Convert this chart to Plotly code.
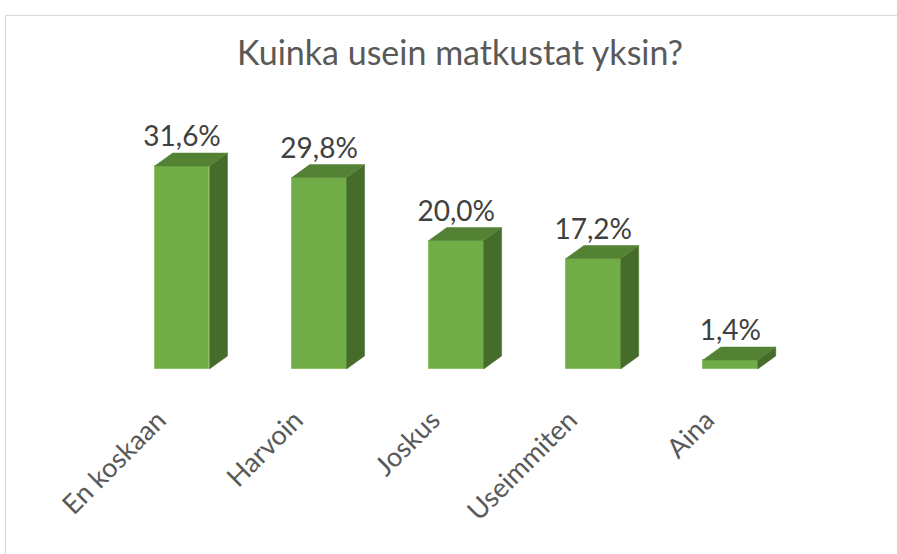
import plotly.graph_objects as go

categories = ["En koskaan", "Harvoin", "Joskus", "Useimmiten", "Aina"]
values = [31.6, 29.8, 20.0, 17.2, 1.4]
labels = ["31,6%", "29,8%", "20,0%", "17,2%", "1,4%"]
title_text = "Kuinka usein matkustat yksin?"

FRONT = "#70AD47"
TOP = "#548235"
SIDE = "#466C2C"
TEXT = "#404040"
AXIS_TEXT = "#595959"
FONT = "Lato, Open Sans, sans-serif"

# layout geometry (pixels)
W, H = 897, 554
L, R, T, B = 45, 57, 80, 185
pw = W - L - R
ph = H - T - B
xr = [-1.0, 4.8]
yr = [0, 45]

bw = 0.4          # bar width in category units
dx = 18 / (pw / (xr[1] - xr[0]))   # depth offset in x units
dy = 13 / (ph / (yr[1] - yr[0]))   # depth offset in y units
tick_shift = 24 / (pw / (xr[1] - xr[0]))

xs = list(range(len(categories)))

top_x, top_y, side_x, side_y = [], [], [], []
for i, v in zip(xs, values):
    xl, xrr = i - bw / 2, i + bw / 2
    top_x += [xl, xrr, xrr + dx, xl + dx, xl, None]
    top_y += [v, v, v + dy, v + dy, v, None]
    side_x += [xrr, xrr, xrr + dx, xrr + dx, xrr, None]
    side_y += [0, v, v + dy, dy, 0, None]

fig = go.Figure()
fig.add_trace(go.Scatter(x=side_x, y=side_y, fill="toself", mode="lines",
                         fillcolor=SIDE, line=dict(color=SIDE, width=0.5),
                         hoverinfo="skip", showlegend=False))
fig.add_trace(go.Scatter(x=top_x, y=top_y, fill="toself", mode="lines",
                         fillcolor=TOP, line=dict(color=TOP, width=0.5),
                         hoverinfo="skip", showlegend=False))
fig.add_trace(go.Bar(x=xs, y=values, width=bw,
                     marker=dict(color=FRONT, line=dict(color="#8DC265", width=1)),
                     showlegend=False))
fig.add_trace(go.Scatter(x=xs, y=[v + dy for v in values], mode="text", text=labels,
                         textposition="top center",
                         textfont=dict(family=FONT, size=28, color=TEXT),
                         hoverinfo="skip", showlegend=False))

# chart frame (top and left edges visible)
fx0 = (5.5 - L) / pw
fx1 = (W + 5 - L) / pw
fy_top = (H - B - 15.5) / ph
fy_bot = (H - B - H - 5) / ph
fig.add_shape(type="line", xref="paper", yref="paper", x0=fx0, x1=fx1, y0=fy_top, y1=fy_top,
              line=dict(color="#D9D9D9", width=1.2))
fig.add_shape(type="line", xref="paper", yref="paper", x0=fx0, x1=fx0, y0=fy_top, y1=fy_bot,
              line=dict(color="#D9D9D9", width=1.2))

fig.update_layout(
    width=W, height=H,
    margin=dict(l=L, r=R, t=T, b=B),
    paper_bgcolor="white", plot_bgcolor="white",
    title=dict(text=title_text, x=460 / W, xanchor="center", xref="container",
               y=1 - 53 / H, yanchor="middle",
               font=dict(family=FONT, size=34, color=AXIS_TEXT)),
    xaxis=dict(range=xr, tickmode="array", tickvals=[i - tick_shift for i in xs], ticktext=categories,
               tickangle=-45, showgrid=False, zeroline=False, showline=False, ticks="",
               ticklabelstandoff=29,
               tickfont=dict(family=FONT, size=27, color=AXIS_TEXT)),
    yaxis=dict(range=yr, visible=False, showgrid=False, zeroline=False),
    bargap=0,
)

fig.write_html("out.html", config={"displayModeBar": False},
               post_script="document.body.style.margin='0';document.body.style.overflow='hidden';")
